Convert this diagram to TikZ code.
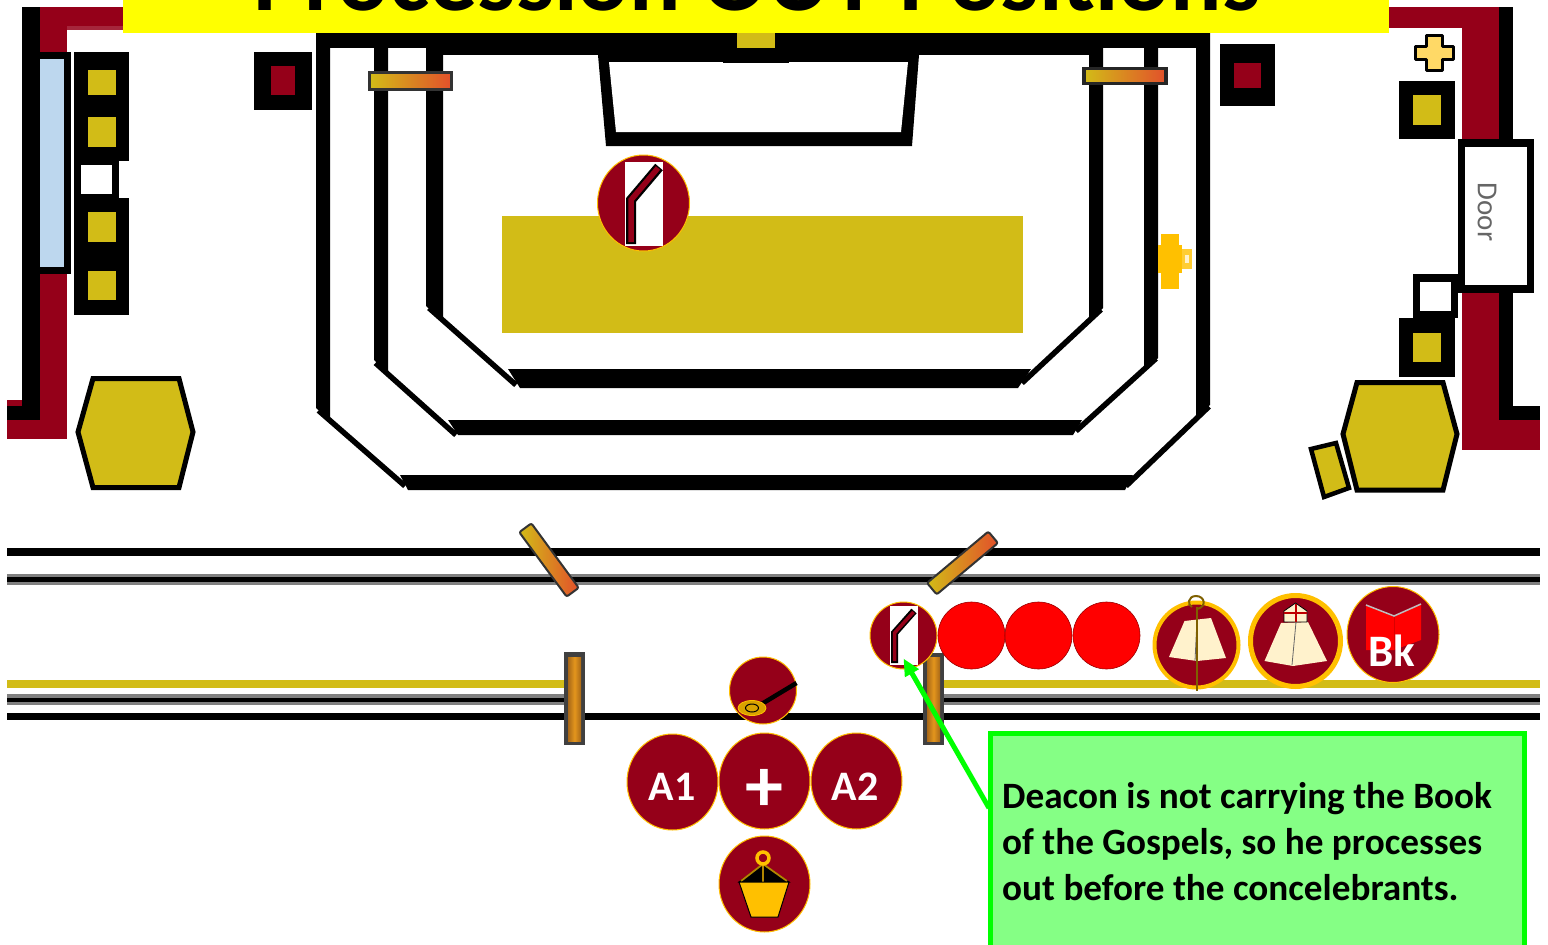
\documentclass[tikz,border=0pt]{standalone}
\usepackage{fontspec}
\setmainfont{Carlito}
\usetikzlibrary{shapes.geometric,arrows.meta,calc}
\definecolor{maroon}{HTML}{950019}
\definecolor{goldd}{HTML}{D2BC17}
\definecolor{amber}{HTML}{FFC000}
\definecolor{skyb}{HTML}{BDD7EE}
\definecolor{cream}{HTML}{FFF2CC}
\definecolor{oran}{HTML}{E08A20}
\definecolor{redor}{HTML}{E2502B}
\definecolor{calloutg}{HTML}{85FF85}
\definecolor{purgreen}{HTML}{00FF00}
\definecolor{purered}{HTML}{FF0000}
\definecolor{pureyellow}{HTML}{FFFF00}
\definecolor{staffc}{HTML}{7F6000}
\definecolor{crossc}{HTML}{FFD966}
\tikzset{
  px/.style={x=1pt,y=-1pt},
  icon/.style={ellipse,draw=amber,line width=1pt,fill=maroon,inner sep=0pt,outer sep=0pt},
  redc/.style={ellipse,draw=purered!60!black,line width=.6pt,fill=purered,inner sep=0pt,outer sep=0pt,minimum width=67pt,minimum height=67pt},
  lab/.style={text=white,font=\fontsize{42}{42}\selectfont\bfseries,inner sep=0pt},
  hex/.style={draw=black,line width=5pt,fill=goldd,line join=miter},
  diag/.style={draw=black,line width=5.5pt},
  bargrad/.style={left color=goldd,right color=redor,draw=black!80,inner sep=0pt,outer sep=0pt},
  pillarout/.style={fill=black!75},
  pillarin/.style={left color=oran!75!black,right color=oran!75!black,middle color=oran!90!yellow},
}
\begin{document}
\begin{tikzpicture}[px]
\useasboundingbox (0,0) rectangle (1548,945);
\clip (0,0) rectangle (1548,945);
\fill[white] (0,0) rectangle (1548,945);

% left wall
\fill[maroon] (40,7) rectangle (123,28);
\fill[maroon!85!white] (67,26) rectangle (123,30);
\fill[maroon] (40,7) rectangle (67,55);
\fill[maroon] (40,270) rectangle (67,439);
\fill[maroon] (7,420) rectangle (67,439);
\fill[maroon] (7,400) rectangle (22,406);
\fill[black] (22,7) rectangle (40,420);
\fill[black] (7,406) rectangle (40,420);
\fill[black] (40,52) rectangle (71,274);
\fill[skyb] (40,59) rectangle (64,267);
% left columns
\fill[black] (74,52) rectangle (129,161);
\fill[goldd] (88,70) rectangle (116,95);
\fill[goldd] (88,117) rectangle (116,147);
\fill[black] (74,161) rectangle (119,198);
\fill[white] (81,165) rectangle (112,194);
\fill[black] (74,198) rectangle (129,315);
\fill[goldd] (88,212) rectangle (116,242);
\fill[goldd] (88,271) rectangle (116,300);
% red squares
\fill[black] (254,52) rectangle (312,110);
\fill[maroon] (271,66) rectangle (295,95);
\fill[black] (1220,44) rectangle (1275,106);
\fill[maroon] (1234,63) rectangle (1261,88);
% hexagons
\draw[hex] (93,378.5) -- (179,378.5) -- (193,432) -- (179,487.5) -- (93,487.5) -- (78,432) -- cycle;
\draw[hex,line width=4.5pt] (1311,449) -- (1336,443) -- (1349,488) -- (1324,497) -- cycle;
\draw[hex] (1357,382.5) -- (1443,382.5) -- (1457,434) -- (1443,490) -- (1357,490) -- (1343,434) -- cycle;

% right wall
\fill[maroon] (1389,7) rectangle (1499,28);
\fill[maroon] (1462,7) rectangle (1499,145);
\fill[maroon] (1462,285) rectangle (1499,450);
\fill[maroon] (1462,420) rectangle (1540,450);
\fill[black] (1499,7) rectangle (1513,420);
\fill[black] (1499,406) rectangle (1540,420);
\fill[black] (1458,139) rectangle (1534,293);
\fill[white] (1465,147) rectangle (1527,285);
\node[rotate=-90,text=black!60,font=\fontsize{29}{29}\selectfont,inner sep=0pt] (door) at (1487,212) {Door};
\fill[black] (1413,274) rectangle (1458,318);
\fill[white] (1420,282) rectangle (1451,311);
\fill[black] (1399,318) rectangle (1455,377);
\fill[goldd] (1413,333) rectangle (1441,362);
\fill[black] (1399,81) rectangle (1455,139);
\fill[goldd] (1413,95) rectangle (1441,125);
\draw[black,line width=3pt,fill=crossc,line join=round] (1426,35) -- (1442,35) -- (1442,46) -- (1453,46) -- (1453,59) -- (1442,59) -- (1442,70) -- (1426,70) -- (1426,59) -- (1415,59) -- (1415,46) -- (1426,46) -- cycle;

% sanctuary steps: outer
\fill[black] (316,33) -- (330,33) -- (330,420) -- (316,408) -- cycle;
\fill[black] (1196,33) -- (1210,33) -- (1210,405) -- (1196,418) -- cycle;
\fill[black] (400,475) -- (1133,475) -- (1125,490) -- (408,490) -- cycle;
\draw[diag] (318.5,410.5) -- (405,486);
\draw[diag] (1209,406.5) -- (1126,486);
% middle
\fill[black] (374,33) -- (388,33) -- (388,373) -- (374,360) -- cycle;
\fill[black] (1144,33) -- (1158,33) -- (1158,358) -- (1144,372) -- cycle;
\fill[black] (448,420) -- (1082,420) -- (1073,435) -- (458,435) -- cycle;
\draw[diag] (375.5,363) -- (456,435);
\draw[diag] (1156,358.5) -- (1076,431);
% inner
\fill[black] (426,33) -- (443,33) -- (443,322) -- (426,306) -- cycle;
\fill[black] (1089,33) -- (1103,33) -- (1103,308) -- (1089,322) -- cycle;
\fill[black] (508,369) -- (1031,369) -- (1018,388) -- (520,388) -- cycle;
\draw[diag] (429,308) -- (516,385);
\draw[diag] (1101,309.5) -- (1022,383);
% top band
\fill[black] (316,33) rectangle (1210,48);
\fill[black] (426,48) rectangle (1103,55);
\fill[goldd] (737,33) rectangle (775,48);
% altar platform
\fill[black] (598,55) -- (919,55) -- (912,146) -- (606,146) -- cycle;
\fill[white] (609,62) -- (908,62) -- (901,132) -- (616,132) -- cycle;
\fill[black] (723,55) rectangle (789,63);
\fill[goldd] (502,216) rectangle (1023,333);
% candle bars
\node[bargrad,line width=3.5pt,draw=black!80,minimum width=82pt,minimum height=17pt] (barL) at (410.5,81) {};
\node[bargrad,line width=3.5pt,draw=black!85,minimum width=82pt,minimum height=15pt] (barR) at (1125,76) {};
% flame
\fill[amber] (1161,234) rectangle (1179,289);
\fill[amber] (1158,245) rectangle (1182,273);
\fill[amber!80!white] (1182,249) rectangle (1192,269);
\fill[cream] (1185,255) rectangle (1189,263);

% rails
\fill[black] (7,548) rectangle (1540,556);
\fill[black!50] (7,574) rectangle (1540,585);
\fill[black] (7,577) rectangle (1540,582);
\fill[goldd] (7,680) rectangle (570,688);
\fill[goldd] (935,680) rectangle (1540,688);
\fill[black!50] (7,694) rectangle (570,705);
\fill[black!50] (935,694) rectangle (1540,705);
\fill[black] (7,698) rectangle (570,702);
\fill[black] (935,698) rectangle (1540,702);
\fill[black] (7,713) rectangle (1540,720);
% pillars
\fill[pillarout] (564,652) rectangle (585,745);
\fill[pillarin] (568,657) rectangle (581,741);
\fill[pillarout] (923,653) rectangle (944,745);
\fill[pillarin] (927,657) rectangle (940,741);
% slanted bars
\node[bargrad,line width=2pt,rounded corners=2pt,rotate=-53.7,minimum width=80pt,minimum height=15pt] (slantL) at (549,560) {};
\node[bargrad,line width=2pt,rounded corners=2pt,rotate=40,minimum width=80pt,minimum height=15pt] (slantR) at (962.5,563) {};

% celebrant deacon at altar
\node[icon,minimum width=92pt,minimum height=96pt] (deaconA) at (643.5,203) {};
\fill[white] (625,162) rectangle (663,246);
\draw[black,line width=10pt,line join=miter] (631,244) -- (631,200) -- (659,167);
\draw[maroon,line width=5.5pt,line join=miter] (631,242) -- (631,200) -- (658,168);

% deacon in procession
\node[icon,minimum width=67pt,minimum height=67pt] (deaconB) at (903.5,635.5) {};
\fill[white] (890,606) rectangle (918,665);
\draw[black,line width=7pt,line join=miter] (894.5,663) -- (894.5,633) -- (914,611);
\draw[maroon,line width=3.5pt,line join=miter] (894.5,661) -- (894.5,633) -- (913.5,612);
\node[redc] (c1) at (971.5,635.5) {};
\node[redc] (c2) at (1038.5,635.5) {};
\node[redc] (c3) at (1106.5,635.5) {};

% priest with crozier
\node[icon,draw=amber,line width=4pt,minimum width=84pt,minimum height=85pt] (crozier) at (1196.5,645) {};
\fill[cream] (1184.5,621) -- (1211,618) -- (1226,658) -- (1197,661) -- (1169,657) -- cycle;
\draw[black!60,line width=.8pt] (1197,619) -- (1195,661);
\draw[staffc,line width=2pt] (1197,607) -- (1197,691);
\draw[staffc,line width=2pt] (1197,609) .. controls (1207,607) and (1205,596) .. (1196,596) .. controls (1188,596) and (1187,605) .. (1192,607);

% bishop
\node[icon,draw=amber,line width=5pt,minimum width=90pt,minimum height=91pt] (bishop) at (1295.5,641) {};
\fill[cream] (1281,623) -- (1308,622) -- (1327,661) -- (1293,666) -- (1264.5,661) -- cycle;
\draw[black!60,line width=.8pt] (1296,622) -- (1292,665);
\draw[black,line width=.8pt,fill=cream] (1284,622) -- (1284,611) -- (1295.5,603) -- (1307,611) -- (1307,622) -- cycle;
\draw[purered!75!black,line width=2pt] (1295.5,604) -- (1295.5,622) (1284,613) -- (1307,613);

% book
\node[icon,minimum width=92pt,minimum height=96pt] (book) at (1393,634.5) {};
\fill[purered] (1366,605) -- (1394,617) -- (1421,604) -- (1421,640) -- (1394,650) -- (1366,650) -- cycle;
\draw[black!25,line width=1.5pt] (1366,605) -- (1394,616) -- (1421,604);
\draw[purered!85!black,line width=.6pt] (1394,617) -- (1394,650);
\node[lab,font=\fontsize{45}{45}\selectfont\bfseries] (bk) at (1392,651) {Bk};

% thurifer
\node[icon,minimum width=67pt,minimum height=67pt] (thur) at (763,690.5) {};
\draw[black,line width=4.5pt] (760,705) -- (796.5,683);
\node[ellipse,fill=amber!85!black,draw=amber,line width=.8pt,minimum width=28pt,minimum height=15pt,inner sep=0pt] (pan) at (752,708) {};
\node[ellipse,draw=black,line width=1pt,minimum width=13pt,minimum height=8pt,inner sep=0pt] (panin) at (752,708) {};

% servers
\node[icon,minimum width=91pt,minimum height=96pt] (a1) at (672.5,782) {};
\node[lab] (a1t) at (672,786.5) {A1};
\node[icon,minimum width=91pt,minimum height=96pt] (cr) at (764.5,781) {};
\node[lab,font=\fontsize{76}{76}\selectfont\bfseries] (crt) at (764,790) {+};
\node[icon,minimum width=91pt,minimum height=96pt] (a2) at (856.5,781) {};
\node[lab] (a2t) at (855,786.5) {A2};
\node[icon,minimum width=91pt,minimum height=96pt] (bk2) at (764.5,884) {};
% bucket
\draw[black,line width=1pt,fill=black] (763,864) -- (739,882) -- (789,882) -- cycle;
\draw[staffc!60!amber,line width=1.8pt] (763,864) -- (741,881) (763,864) -- (787,881) (763,864) -- (763,882);
\draw[black,line width=1pt,fill=amber] (739,882) -- (789,882) -- (778,917) -- (751,917) -- cycle;
\draw[amber,line width=3.5pt,fill=maroon] (763,858) circle (6pt);

% callout
\coordinate (calloutpt) at (989,808);
\coordinate (deacontip) at ($(deaconB.center)+(0,23)$);
\draw[purgreen,line width=5pt,-{Triangle[length=17pt,width=15pt]}] (calloutpt) -- (deacontip);
\node[draw=purgreen,fill=calloutg,line width=5pt,minimum width=534pt,minimum height=228pt,inner sep=0pt,outer sep=0pt] (callout) at (1257.5,847) {};
\node[anchor=north west,align=left,inner sep=0pt,font=\fontsize{37.2}{46}\selectfont\bfseries,text=black] (ctext) at (1002,782.5) {Deacon is not carrying the Book\\of the Gospels, so he processes\\out before the concelebrants.};

% banner
\fill[pureyellow] (123,-5) rectangle (1389,33);
\node[anchor=base,inner sep=0pt,font=\fontsize{96}{96}\selectfont\bfseries,text=black] (title) at (757,10) {Procession OUT Positions};
\end{tikzpicture}
\end{document}
